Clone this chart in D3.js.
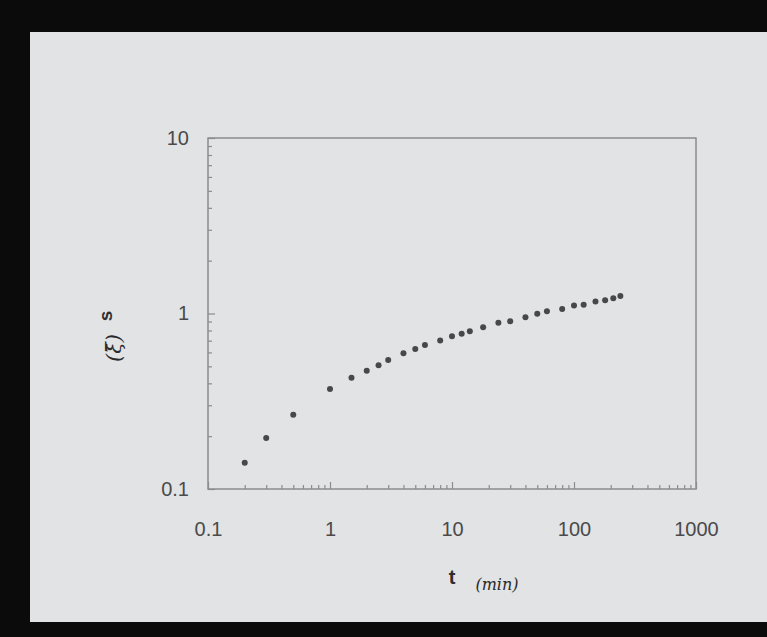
<!DOCTYPE html>
<html>
<head>
<meta charset="utf-8">
<script src="https://cdn.jsdelivr.net/npm/d3@7"></script>
<style>
body { margin: 0; background: #0b0b0b; }
svg { display: block; }
</style>
</head>
<body>
<div id="main-vis"></div>
<script>
// values (t in min, s)
var tValues = [0.2, 0.3, 0.5, 1, 1.5, 2, 2.5, 3, 4, 5, 6, 8, 10, 12, 14, 18, 24, 30, 40, 50, 60, 80, 100, 120, 150, 180, 210, 240];
var sValues = [0.141, 0.195, 0.265, 0.371, 0.43, 0.472, 0.507, 0.543, 0.593, 0.628, 0.662, 0.702, 0.741, 0.766, 0.792, 0.835, 0.885, 0.904, 0.953, 0.996, 1.03, 1.06, 1.11, 1.12, 1.17, 1.19, 1.22, 1.26];
var xTickLabels = ["0.1", "1", "10", "100", "1000"];
var yTickLabels = ["0.1", "1", "10"];

var data = tValues.map(function (t, i) {
     return { t: t, s: sValues[i] };
});

var W = 767, H = 637;
var svg = d3.select("#main-vis").append("svg")
     .attr("width", W)
     .attr("height", H);

// the slide itself
svg.append("rect")
     .attr("x", 30).attr("y", 32)
     .attr("width", W - 30).attr("height", 590)
     .attr("fill", "#e1e3e5");

var x = d3.scaleLog().domain([0.1, 1000]).range([208, 696]);
var y = d3.scaleLog().domain([0.1, 10]).range([489, 138]);

var minorX = [], minorY = [];
[0.1, 1, 10, 100].forEach(function (d) {
     for (var k = 2; k <= 9; k++) minorX.push(d * k);
});
[0.1, 1].forEach(function (d) {
     for (var k = 2; k <= 9; k++) minorY.push(d * k);
});

var axisColor = "#8a8c8e", textColor = "#4a4a4a";

// frame
svg.append("rect")
     .attr("x", x(0.1)).attr("y", y(10))
     .attr("width", x(1000) - x(0.1)).attr("height", y(0.1) - y(10))
     .attr("fill", "none")
     .attr("stroke", axisColor)
     .attr("stroke-width", 1.5);

function styleAxis(g) {
     g.select(".domain").remove();
     g.selectAll("line").attr("stroke", axisColor).attr("stroke-width", 1.2);
     g.selectAll("text")
          .attr("fill", textColor)
          .style("font-family", "Liberation Sans, Arial, sans-serif")
          .style("font-size", "20px");
}

// minor ticks (inward)
svg.append("g")
     .attr("transform", "translate(0," + y(0.1) + ")")
     .call(d3.axisBottom(x).tickValues(minorX).tickSize(-4).tickFormat(""))
     .call(styleAxis);
svg.append("g")
     .attr("transform", "translate(" + x(0.1) + ",0)")
     .call(d3.axisLeft(y).tickValues(minorY).tickSize(-4).tickFormat(""))
     .call(styleAxis);

// major ticks with labels
svg.append("g")
     .attr("transform", "translate(0," + y(0.1) + ")")
     .call(d3.axisBottom(x).tickValues(xTickLabels.map(Number)).tickSize(-7).tickPadding(33)
          .tickFormat(function (d, i) { return xTickLabels[i]; }))
     .call(styleAxis);
svg.append("g")
     .attr("transform", "translate(" + x(0.1) + ",0)")
     .call(d3.axisLeft(y).tickValues(yTickLabels.map(Number)).tickSize(-7).tickPadding(19)
          .tickFormat(function (d, i) { return yTickLabels[i]; }))
     .call(styleAxis);

// points
svg.selectAll("dot")
     .data(data)
     .enter().append("circle")
     .attr("r", 3)
     .attr("cx", function (d) { return x(d.t); })
     .attr("cy", function (d) { return y(d.s); })
     .attr("fill", "#464849");

// axis titles
svg.append("text")
     .attr("x", 452).attr("y", 584)
     .attr("text-anchor", "middle")
     .attr("fill", "#2e2e2e")
     .style("font-family", "Liberation Sans, Arial, sans-serif")
     .style("font-weight", "bold")
     .style("font-size", "20px")
     .text("t");
svg.append("text")
     .attr("x", 497).attr("y", 590)
     .attr("text-anchor", "middle")
     .attr("fill", "#2a2a2a")
     .style("font-family", "DejaVu Serif, serif")
     .style("font-style", "italic")
     .style("font-size", "16px")
     .text("(min)");
svg.append("text")
     .attr("transform", "translate(112,316) rotate(-90)")
     .attr("text-anchor", "middle")
     .attr("fill", "#2e2e2e")
     .style("font-family", "Liberation Sans, Arial, sans-serif")
     .style("font-weight", "bold")
     .style("font-size", "19px")
     .text("s");
svg.append("text")
     .attr("transform", "translate(121,348) rotate(-90)")
     .attr("text-anchor", "middle")
     .attr("fill", "#2a2a2a")
     .style("font-family", "DejaVu Serif, serif")
     .style("font-style", "italic")
     .style("font-size", "21px")
     .text("(ξ̄)");
</script>
</body>
</html>
